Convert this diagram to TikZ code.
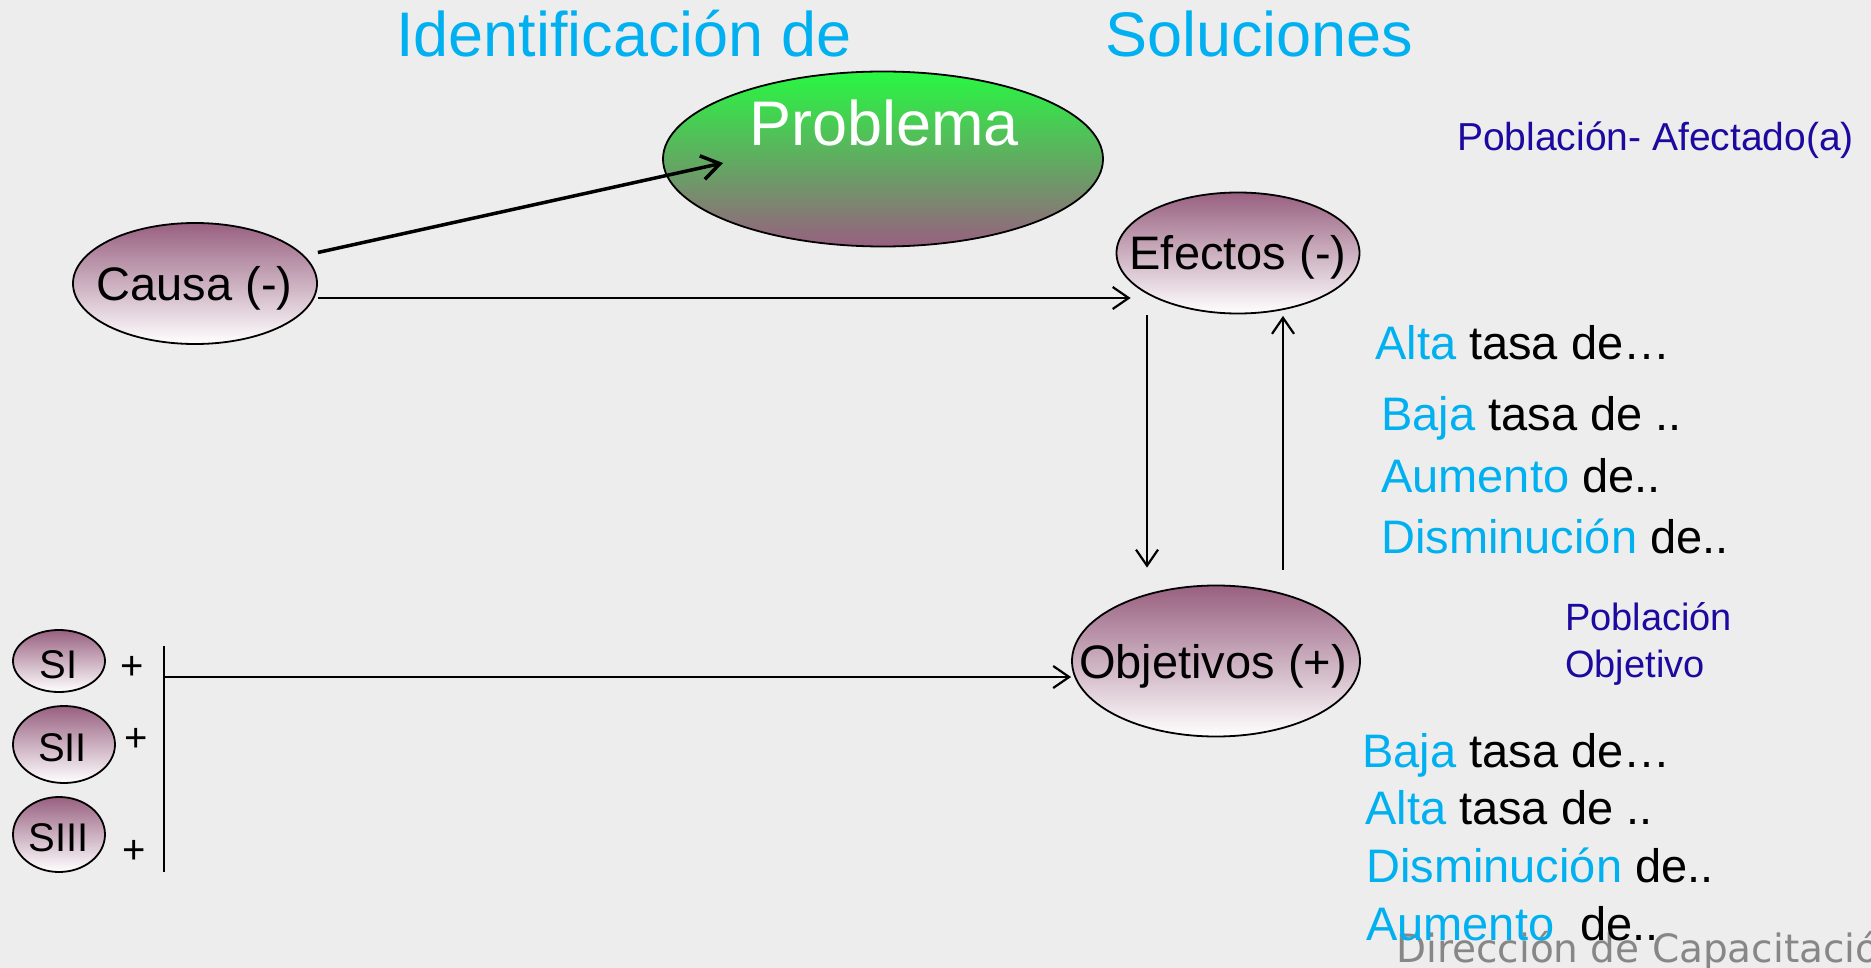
\documentclass[tikz,border=0pt]{standalone}
\usepackage{fontspec}
\setmainfont{Liberation Sans}
\newfontfamily\dejavu{DejaVu Sans}
\usetikzlibrary{arrows.meta,shapes.geometric,calc}
\definecolor{bg}{RGB}{237,237,237}
\definecolor{cyanT}{RGB}{0,176,240}
\definecolor{navyT}{RGB}{28,10,160}
\definecolor{mauve}{RGB}{152,96,128}
\definecolor{greenP}{RGB}{40,248,66}
\definecolor{grayT}{RGB}{135,135,135}
\tikzset{
  oval/.style={ellipse, draw=black, line width=1.8pt, inner sep=0pt, top color=mauve, bottom color=white},
  fs/.style={font=\fontsize{#1pt}{#1pt}\selectfont},
  lbl/.style={inner sep=0pt, anchor=base},
  txt/.style={inner sep=0pt, anchor=base west},
  conn/.style={line width=2.2pt, -{Straight Barb[length=16pt,width=22pt]}},
}
\begin{document}
\begin{tikzpicture}[x=1pt,y=-1pt]
\path[use as bounding box, fill=bg] (0,0) rectangle (1871,968);
\clip (0,0) rectangle (1871,968);

% title
\node[txt, fs=63, text=cyanT] (t1) at (396,57) {Identificación de};
\node[txt, fs=63, text=cyanT] (t2) at (1105,57) {Soluciones};

% ellipses
\node[oval, minimum width=440pt, minimum height=175pt, top color=greenP, bottom color=mauve] (prob) at (883,159) {};
\node[txt, fs=63, text=white] (probt) at (749,146) {Problema};
\node[oval, minimum width=244pt, minimum height=121pt] (causa) at (195,283.5) {};
\node[lbl, fs=47] (causat) at (194.5,301) {Causa (-)};
\node[oval, minimum width=243pt, minimum height=121pt] (efectos) at (1238,253) {};
\node[lbl, fs=47] (efectost) at (1238,270) {Efectos (-)};
\node[oval, minimum width=288pt, minimum height=151pt] (obj) at (1216,661) {};
\node[lbl, fs=47] (objt) at (1213,678) {Objetivos (+)};

\node[oval, minimum width=92pt, minimum height=62pt] (s1) at (59,661) {};
\node[lbl, fs=40] (s1t) at (58.5,678) {SI};
\node[oval, minimum width=102pt, minimum height=77pt] (s2) at (64,744.5) {};
\node[lbl, fs=40] (s2t) at (62.5,761) {SII};
\node[oval, minimum width=92pt, minimum height=75pt] (s3) at (59,834.5) {};
\node[lbl, fs=40] (s3t) at (58.5,851) {SIII};
\node[lbl, fs=40] (p1) at (132,679) {+};
\node[lbl, fs=40] (p2) at (136,751) {+};
\node[lbl, fs=40] (p3) at (134.5,863) {+};

% right-hand texts
\node[txt, fs=39, text=navyT] (pa) at (1457,151) {Población- Afectado(a)};
\node[txt, fs=47] (e1) at (1375,359) {\textcolor{cyanT}{Alta} tasa de…};
\node[txt, fs=47] (e2) at (1381,430) {\textcolor{cyanT}{Baja} tasa de ..};
\node[txt, fs=47] (e3) at (1381,492) {\textcolor{cyanT}{Aumento} de..};
\node[txt, fs=47] (e4) at (1381,553) {\textcolor{cyanT}{Disminución} de..};
\node[txt, fs=38, text=navyT] (po1) at (1565,630) {Población};
\node[txt, fs=38, text=navyT] (po2) at (1565,677) {Objetivo};
\node[txt, text=grayT, font=\dejavu\fontsize{39pt}{39pt}\selectfont] (dir) at (1396,962) {Dirección de Capacitació};
\node[txt, fs=47] (o1) at (1362,767) {\textcolor{cyanT}{Baja} tasa de…};
\node[txt, fs=47] (o2) at (1365,824) {\textcolor{cyanT}{Alta} tasa de ..};
\node[txt, fs=47] (o3) at (1366,882) {\textcolor{cyanT}{Disminución} de..};
\node[txt, fs=47] (o4) at (1366,940) {\textcolor{cyanT}{Aumento}\ \ de..};

% connectors
\draw[conn, line width=3.5pt, -{Straight Barb[length=18pt,width=24pt]}] ($(causa.east)+(0,-31)$) -- ($(prob.center)+(-160,4)$);
\draw[conn] ($(causa.east)+(0,14.5)$) -- ($(efectos.west)+(15,45)$);
\draw[conn] ($(efectos.south)+(-91,1)$) -- ($(obj.north)+(-69,-17)$);
\draw[conn] ($(obj.north)+(67,-15)$) -- ($(efectos.south)+(45,1.5)$);
\coordinate (bt) at (164,646);
\coordinate (bb) at (164,872);
\coordinate (bj) at (164,677);
\draw[line width=2.2pt] (bt) -- (bb);
\draw[conn] (bj) -- ($(obj.west)+(0,16)$);
\end{tikzpicture}
\end{document}
